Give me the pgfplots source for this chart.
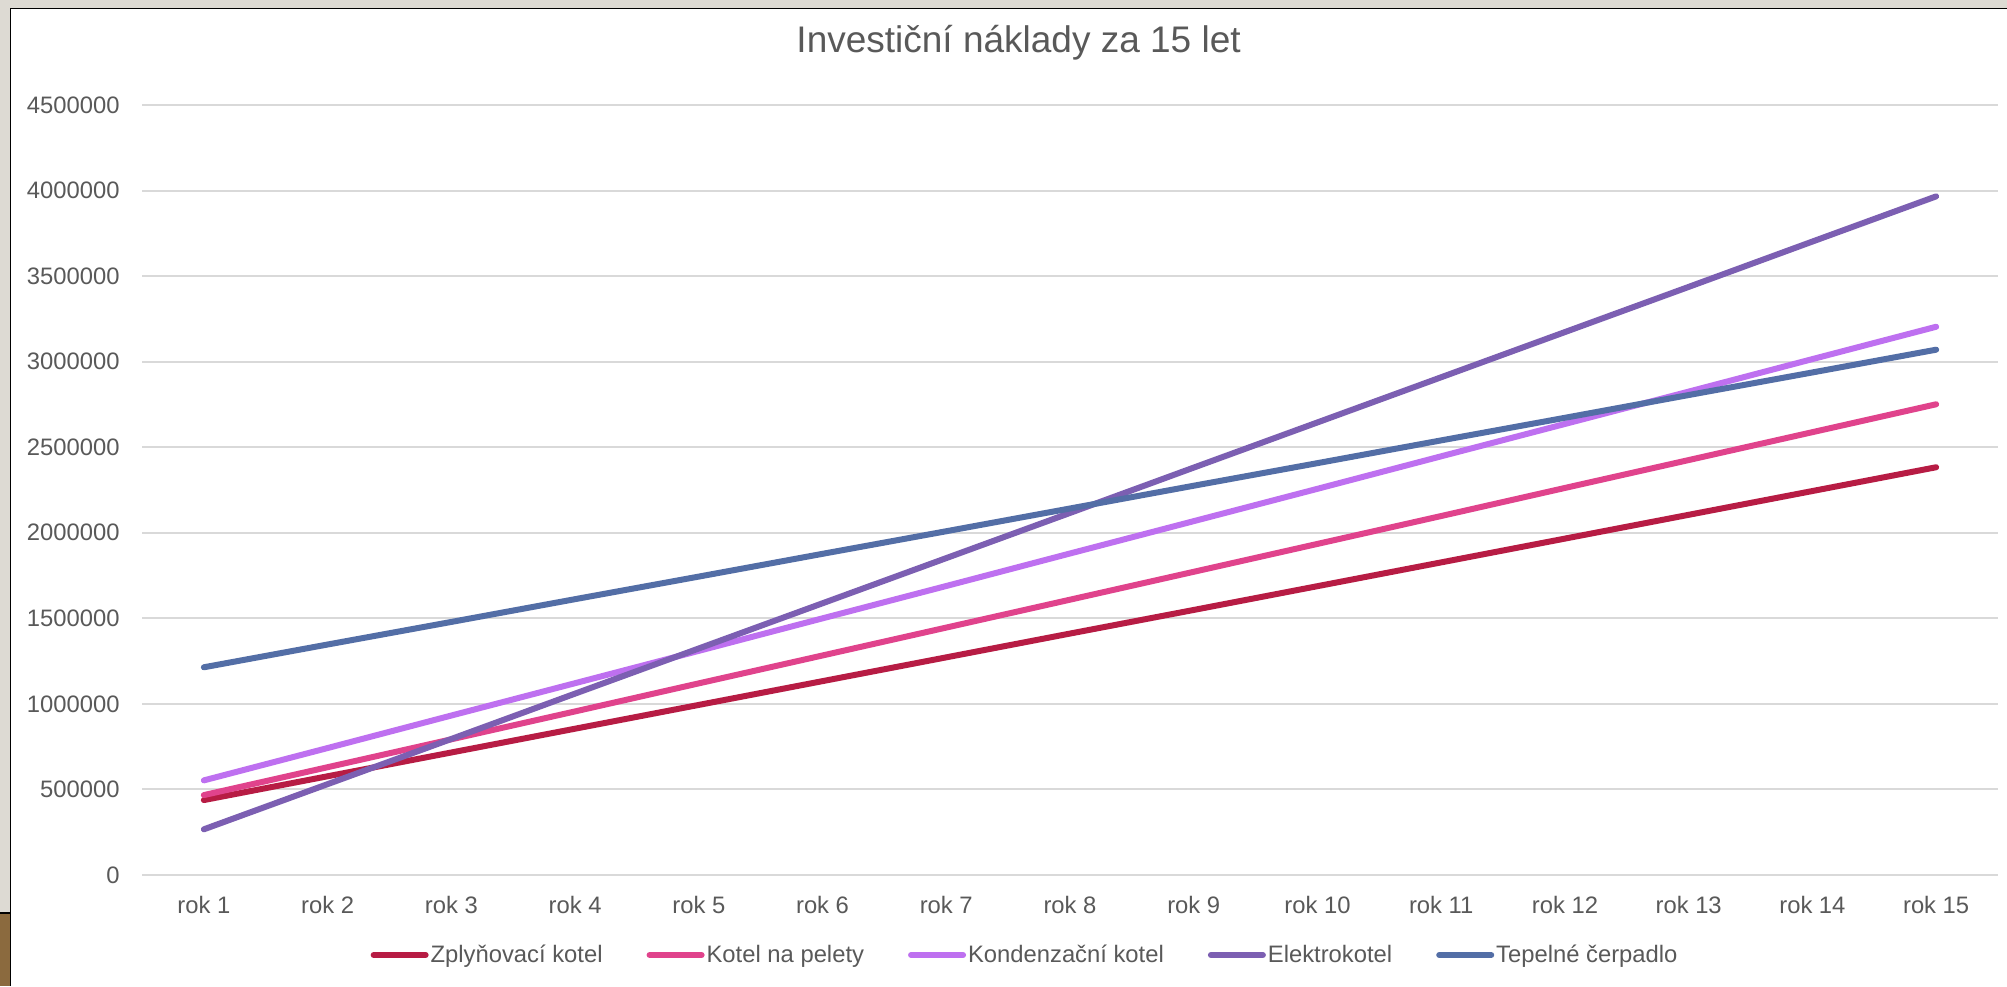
\documentclass[border=0pt]{standalone}
\usepackage{pgfplots}
\pgfplotsset{compat=1.18}
\usepackage{pgfplotstable}
\usepackage{fontspec}
\setmainfont{Liberation Sans}
\definecolor{cZpl}{HTML}{B71C44}
\definecolor{cPel}{HTML}{E0438C}
\definecolor{cKon}{HTML}{BE70F0}
\definecolor{cEle}{HTML}{7C5FB2}
\definecolor{cTep}{HTML}{536EA6}
\definecolor{txt}{HTML}{595959}
\definecolor{grd}{HTML}{D9D9D9}
\definecolor{beige}{HTML}{DDDAD3}
\definecolor{wood}{HTML}{8B6A3E}

\pgfplotstableread{
rok zpl pel kon ele tep
1  438000  467000  553000  267000  1214000
2  577000  630000  742000  531000  1347000
3  716000  793000  932000  795000  1479000
4  855000  956000  1121000 1060000 1612000
5  994000  1120000 1310000 1324000 1744000
6  1133000 1283000 1500000 1588000 1877000
7  1272000 1446000 1689000 1852000 2009000
8  1411000 1609000 1879000 2116000 2142000
9  1549000 1772000 2068000 2381000 2275000
10 1688000 1935000 2257000 2645000 2407000
11 1827000 2098000 2447000 2909000 2540000
12 1966000 2262000 2636000 3173000 2672000
13 2105000 2425000 2825000 3437000 2805000
14 2244000 2588000 3015000 3702000 2937000
15 2383000 2751000 3204000 3966000 3070000
}\data

\begin{document}
\begin{tikzpicture}
\useasboundingbox (0,0) rectangle (1003.5pt,493pt);
\fill[beige] (0,0) rectangle (1003.5pt,493pt);
\fill[white] (5.25pt,0) rectangle (1003.5pt,488.75pt);
\fill[wood] (0,0) rectangle (5.25pt,36.5pt);
\draw[black, line width=0.75pt] (5.25pt,0) -- (5.25pt,488.75pt) -- (1003.5pt,488.75pt);
\draw[black, line width=0.6pt] (0,36.5pt) -- (5.25pt,36.5pt);
\begin{axis}[
  at={(71pt,55.5pt)}, anchor=south west,
  scale only axis, width=928pt, height=385pt,
  xmin=0.5, xmax=15.5, ymin=0, ymax=4500000,
  xtick={1,...,15},
  xticklabels={rok 1,rok 2,rok 3,rok 4,rok 5,rok 6,rok 7,rok 8,rok 9,rok 10,rok 11,rok 12,rok 13,rok 14,rok 15},
  ytick={0,500000,...,4500000},
  scaled y ticks=false,
  /pgf/number format/.cd, fixed, 1000 sep={}, assume math mode=true,
  /pgfplots/.cd,
  axis line style={draw=none},
  major tick length=0pt,
  ymajorgrids, grid style={grd, line width=1pt},
  tick label style={font=\fontsize{11.9pt}{14pt}\selectfont, text=txt},
  yticklabel style={inner sep=0pt, anchor=east, xshift=-11pt},
  xticklabel style={inner sep=0pt, anchor=north, yshift=-10.5pt},
  title={Investiční náklady za 15 let},
  title style={at={(0.4723,1)}, anchor=base, yshift=20.5pt, inner sep=0pt, font=\fontsize{18.5pt}{22pt}\selectfont, text=txt},
  legend columns=5,
  legend style={at={(0.4758,-0.1039)}, anchor=center, draw=none, fill=none,
    font=\fontsize{11.9pt}{14pt}\selectfont, text=txt,
    inner sep=0pt,
    nodes={inner sep=1pt},
    /tikz/every even column/.append style={column sep=21pt}},
  legend image code/.code={\draw[#1, line width=3pt, line cap=round] (0pt,0pt) -- (26pt,0pt);},
  every axis plot/.append style={line width=3pt, line cap=round, no markers},
]
\addplot[cZpl] table[x=rok, y=zpl] {\data};
\addplot[cPel] table[x=rok, y=pel] {\data};
\addplot[cKon] table[x=rok, y=kon] {\data};
\addplot[cEle] table[x=rok, y=ele] {\data};
\addplot[cTep] table[x=rok, y=tep] {\data};
\legend{Zplyňovací kotel, Kotel na pelety, Kondenzační kotel, Elektrokotel, Tepelné čerpadlo}
\end{axis}
\end{tikzpicture}
\end{document}
